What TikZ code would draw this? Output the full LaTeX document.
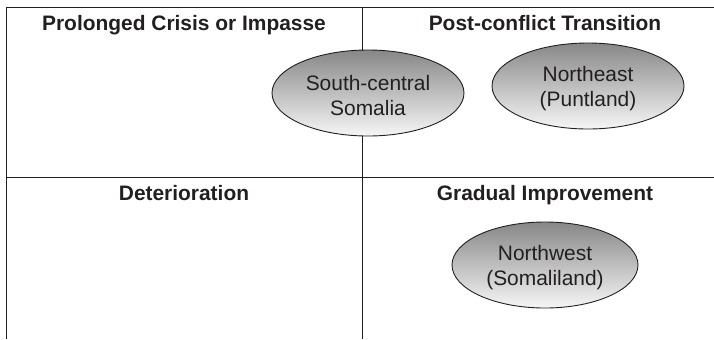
\documentclass[tikz,border=0pt]{standalone}
\usepackage{fontspec}
\setmainfont{Liberation Sans}
\usetikzlibrary{shapes.geometric}
\definecolor{ink}{RGB}{35,31,32}
\definecolor{shtop}{RGB}{135,135,135}
\definecolor{shbot}{RGB}{246,246,246}
\tikzset{
  grid/.style={draw=ink, line width=1bp},
  title/.style={anchor=base, text=ink, font=\fontsize{21}{25}\selectfont\bfseries, inner sep=0},
  region/.style={ellipse, draw=ink, line width=0.9bp, top color=shtop, bottom color=shbot,
    minimum width=192bp, minimum height=86bp, inner sep=0},
  regiontext/.style={align=center, text=ink, font=\fontsize{21}{25}\selectfont, yshift=-2.5bp}
}
\begin{document}
\begin{tikzpicture}[x=1bp, y=-1bp]
\useasboundingbox (0,0) rectangle (714,339);
\coordinate (tl) at (6,7);
\coordinate (tr) at (714,7);
\coordinate (bl) at (6,339);
\coordinate (mt) at (362,7);
\coordinate (mb) at (362,339);
\coordinate (ml) at (6,177);
\coordinate (mr) at (714,177);
\draw[grid] (bl) -- (tl) -- (tr);
\draw[grid] (mt) -- (mb);
\draw[grid] (ml) -- (mr);
\node[title] (t1) at (184,30) {Prolonged Crisis or Impasse};
\node[title] (t2) at (545,30) {Post-conflict Transition};
\node[title] (t3) at (184,200) {Deterioration};
\node[title] (t4) at (545,200) {Gradual Improvement};
\node[region, label={[regiontext]center:South-central\\Somalia}] (sc) at (368,93) {};
\node[region, label={[regiontext]center:Northeast\\(Puntland)}] (ne) at (588,86) {};
\node[region, minimum width=186bp, label={[regiontext]center:Northwest\\(Somaliland)}] (nw) at (545,265) {};
\end{tikzpicture}
\end{document}
